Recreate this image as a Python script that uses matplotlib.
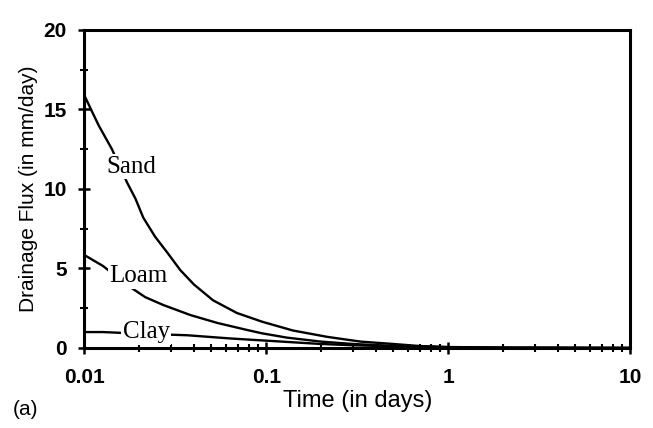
import matplotlib.pyplot as plt
from matplotlib.ticker import LogLocator, FixedLocator, NullFormatter

# Дані
sand_t = [0.01, 0.011, 0.012, 0.0142, 0.0172, 0.0191, 0.0211, 0.0245, 0.0286, 0.0337, 0.04,
          0.051, 0.069, 0.095, 0.14, 0.216, 0.33, 0.5, 0.7, 1.0, 2.0, 10.0]
sand_q = [15.9, 14.9, 14.0, 12.5, 10.4, 9.4, 8.2, 7.0, 6.0, 4.9, 4.0,
          3.0, 2.2, 1.65, 1.1, 0.7, 0.4, 0.25, 0.12, 0.06, 0.02, 0.0]

loam_t = [0.01, 0.0127, 0.017, 0.0216, 0.0272, 0.0383, 0.054, 0.0786, 0.095, 0.13, 0.2,
          0.3, 0.5, 1.0, 2.0, 10.0]
loam_q = [5.85, 5.15, 4.0, 3.2, 2.7, 2.07, 1.57, 1.13, 0.92, 0.65, 0.4,
          0.25, 0.13, 0.05, 0.02, 0.0]

clay_t = [0.01, 0.0127, 0.02, 0.0368, 0.063, 0.13, 0.2, 0.3, 0.5, 1.0, 2.0, 10.0]
clay_q = [1.0, 1.0, 0.9, 0.8, 0.6, 0.38, 0.25, 0.17, 0.1, 0.04, 0.01, 0.0]

labels = ['Sand', 'Loam', 'Clay']
label_pos = [(0.0182, 11.4), (0.0198, 4.5), (0.0219, 1.0)]

plt.rcParams['font.family'] = ['Liberation Sans', 'DejaVu Sans']

fig = plt.figure(figsize=(6.53, 4.28), dpi=100)
ax = fig.add_axes([0.129, 0.187, 0.836, 0.743])

for t, q in [(sand_t, sand_q), (loam_t, loam_q), (clay_t, clay_q)]:
    ax.plot(t, q, color='black', lw=1.7, solid_joinstyle='round')

for name, (x, y) in zip(labels, label_pos):
    ax.text(x, y, name, family='Liberation Serif', fontsize=18, ha='center', va='center',
            bbox=dict(facecolor='white', edgecolor='none', pad=1.0))

ax.set_xscale('log')
ax.set_xlim(0.01, 10)
ax.set_ylim(0, 20)
ax.set_xticks([0.01, 0.1, 1, 10])
ax.set_xticklabels(['0.01', '0.1', '1', '10'])
ax.xaxis.set_minor_locator(LogLocator(base=10, subs=range(2, 10)))
ax.xaxis.set_minor_formatter(NullFormatter())
ax.set_yticks([0, 5, 10, 15, 20])
ax.yaxis.set_minor_locator(FixedLocator([2.5, 7.5, 12.5, 17.5]))

ax.tick_params(which='major', direction='inout', length=9, width=1.8, labelsize=15)
ax.tick_params(axis='x', which='major', pad=10)
ax.tick_params(axis='y', which='major', pad=8)
ax.tick_params(which='minor', direction='inout', length=6, width=1.5)
for lbl in ax.get_xticklabels() + ax.get_yticklabels():
    lbl.set_fontweight('bold')

for s in ax.spines.values():
    s.set_linewidth(2.2)

ax.set_xlabel('Time (in days)', fontsize=17, labelpad=2)
ax.set_ylabel('Drainage Flux (in mm/day)', fontsize=15, labelpad=4)
fig.text(0.02, 0.03, '(a)', fontsize=15)

fig.savefig('out.png', dpi=100)
